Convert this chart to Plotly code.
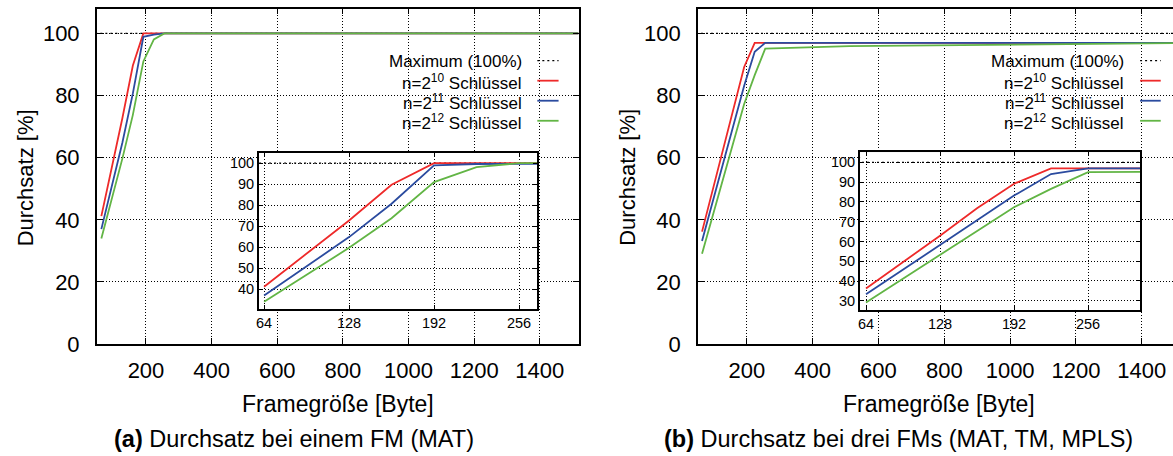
import plotly.graph_objects as go

W = 1173
H = 470          # the photographed page is rescaled to 456 px high
REF_H = 456      # reference image height used for the layout fractions

# ---------------- data ----------------
frame_sizes = [64, 128, 160, 192, 224, 256, 512, 1024, 1518]

# (a) one FM (MAT)
mat_n10 = [41.2, 72.7, 89.7, 100.0, 100.0, 100.0, 100.0, 100.0, 100.0]
mat_n11 = [37.0, 64.8, 80.7, 98.9, 99.6, 100.0, 100.0, 100.0, 100.0]
mat_n12 = [34.0, 59.7, 73.8, 91.0, 98.1, 100.0, 100.0, 100.0, 100.0]

# (b) three FMs (MAT, TM, MPLS)
fms_n10 = [36.2, 62.9, 76.8, 89.2, 97.0, 97.0, 97.0, 97.0, 97.0]
fms_n11 = [33.2, 58.2, 71.1, 83.2, 94.1, 97.0, 97.0, 97.0, 97.0]
fms_n12 = [29.1, 53.1, 65.0, 77.3, 86.6, 95.1, 95.9, 96.5, 96.9]

max_x = [0, 2000]
max_y = [100, 100]

main_x_ticks = [200, 400, 600, 800, 1000, 1200, 1400]
main_y_ticks = [0, 20, 40, 60, 80, 100]
inset_x_ticks = [64, 128, 192, 256]
inset_y_ticks = [30, 40, 50, 60, 70, 80, 90, 100]

series_names = ["n=2<sup>10</sup> Schlüssel", "n=2<sup>11</sup> Schlüssel", "n=2<sup>12</sup> Schlüssel"]
max_name = "Maximum (100%)"
colors = ["#ee2a2a", "#2b4b9f", "#62b545"]

captions = ["<b>(a)</b> Durchsatz bei einem FM (MAT)",
            "<b>(b)</b> Durchsatz bei drei FMs (MAT, TM, MPLS)"]
x_title = "Framegröße [Byte]"
y_title = "Durchsatz [%]"

FONT = "Liberation Sans, Arial, Helvetica, sans-serif"


def px(x):
    return x / W


def py(y):
    return 1 - y / REF_H


fig = go.Figure()

panels = [
    dict(data=[mat_n10, mat_n11, mat_n12], main=("x", "y"), inset=("x3", "y3")),
    dict(data=[fms_n10, fms_n11, fms_n12], main=("x2", "y2"), inset=("x4", "y4")),
]

for p in panels:
    for (xa, ya) in (p["main"], p["inset"]):
        fig.add_trace(go.Scatter(x=max_x, y=max_y, xaxis=xa, yaxis=ya, mode="lines",
                                 line=dict(color="black", width=1.3, dash="2px,3px"),
                                 showlegend=False, hoverinfo="skip"))
        for vals, c in zip(p["data"], colors):
            fig.add_trace(go.Scatter(x=frame_sizes, y=vals, xaxis=xa, yaxis=ya, mode="lines",
                                     line=dict(color=c, width=1.8), showlegend=False))

grid = dict(showgrid=True, gridcolor="black", gridwidth=1, griddash="1px,2px",
            zeroline=False, showline=True, linecolor="black",
            ticks="inside", tickcolor="black")

main_common = dict(**grid, linewidth=1.5, ticklen=6, ticklabeloverflow="allow",
                   tickfont=dict(family=FONT, size=22, color="black"))
inset_common = dict(**grid, linewidth=2, ticklen=4,
                    tickfont=dict(family=FONT, size=14.5, color="black"))

top, bottom = py(8.6), py(343.3)

fig.update_layout(
    xaxis=dict(**main_common, domain=[px(94), px(577)], range=[50, 1518], anchor="y",
               tickvals=main_x_ticks, mirror="ticks", ticklabelstandoff=6),
    yaxis=dict(**main_common, domain=[bottom, top], range=[0, 108], anchor="x",
               tickvals=main_y_ticks, mirror="ticks", ticklabelstandoff=11),
    xaxis2=dict(**main_common, domain=[px(696.7), 1.0], range=[51.5, 1494.8], anchor="y2",
                tickvals=main_x_ticks, mirror="ticks", ticklabelstandoff=6),
    yaxis2=dict(**main_common, domain=[bottom, top], range=[0, 108], anchor="x2",
                tickvals=main_y_ticks, mirror=False, ticklabelstandoff=11),
    xaxis3=dict(**inset_common, domain=[px(256.7), px(535.7)], range=[60.2, 269.8], anchor="y3",
                tickvals=inset_x_ticks, mirror="ticks", ticklabelstandoff=0),
    yaxis3=dict(**inset_common, domain=[py(308.3), py(152.3)], range=[30.6, 105], anchor="x3",
                tickvals=inset_y_ticks, mirror="ticks", ticklabelstandoff=0),
    xaxis4=dict(**inset_common, domain=[px(859.3), px(1140)], range=[58.9, 301], anchor="y4",
                tickvals=inset_x_ticks, mirror="ticks", ticklabelstandoff=0),
    yaxis4=dict(**inset_common, domain=[py(309.3), py(152)], range=[25.3, 105.1], anchor="x4",
                tickvals=inset_y_ticks, mirror="ticks", ticklabelstandoff=0),
)

fig.update_layout(
    width=W, height=H,
    margin=dict(l=0, r=0, t=0, b=0),
    paper_bgcolor="white",
    plot_bgcolor="white",
    font=dict(family=FONT, color="black"),
    showlegend=False,
)

annotations = []
shapes = []

# axis titles and captions
for k, (cx, ycx, capx) in enumerate(((335.5, 22, 291.5), (938, 626, 897.5))):
    annotations.append(dict(x=px(cx), y=py(403.5), xref="paper", yref="paper", text=x_title,
                            showarrow=False, font=dict(size=23, family=FONT), xanchor="center",
                            yanchor="middle"))
    annotations.append(dict(x=px(ycx), y=py(177), xref="paper", yref="paper", text=y_title,
                            showarrow=False, textangle=-90, font=dict(size=22, family=FONT),
                            xanchor="center", yanchor="middle"))
    annotations.append(dict(x=px(capx), y=py(438), xref="paper", yref="paper", text=captions[k],
                            showarrow=False, font=dict(size=23.5, family=FONT), xanchor="center",
                            yanchor="middle"))

# legends (gnuplot style: text right-aligned, sample to its right)
row_y = [60.5, 80.5, 100.5, 120.5]
for text_right, s0, s1 in ((522, 535.7, 557), (1125.7, 1140, 1160.7)):
    labels = [max_name] + series_names
    for i, lab in enumerate(labels):
        annotations.append(dict(x=px(text_right), y=py(row_y[i] + (1.5 if i > 0 else 1)),
                                xref="paper", yref="paper", text=lab, showarrow=False,
                                font=dict(size=17, family=FONT), xanchor="right", yanchor="middle"))
        if i == 0:
            line = dict(color="black", width=1.3, dash="2px,3px")
        else:
            line = dict(color=colors[i - 1], width=1.8)
        shapes.append(dict(type="line", xref="paper", yref="paper", x0=px(s0), x1=px(s1),
                           y0=py(row_y[i]), y1=py(row_y[i]), line=line))

fig.update_layout(annotations=annotations, shapes=shapes)

# grey inset backgrounds
for xa, ya in (("x3", "y3"), ("x4", "y4")):
    fig.add_shape(type="rect", xref=f"{xa} domain", yref=f"{ya} domain", x0=0, x1=1, y0=0, y1=1,
                  fillcolor="#e5e5e5", line=dict(width=0), layer="below")

# remove the default page margin so the figure sits at the window's top-left corner
fig.write_html("out.html",
               config={"displayModeBar": False},
               post_script="document.body.style.margin='0';document.body.style.overflow='hidden';")
